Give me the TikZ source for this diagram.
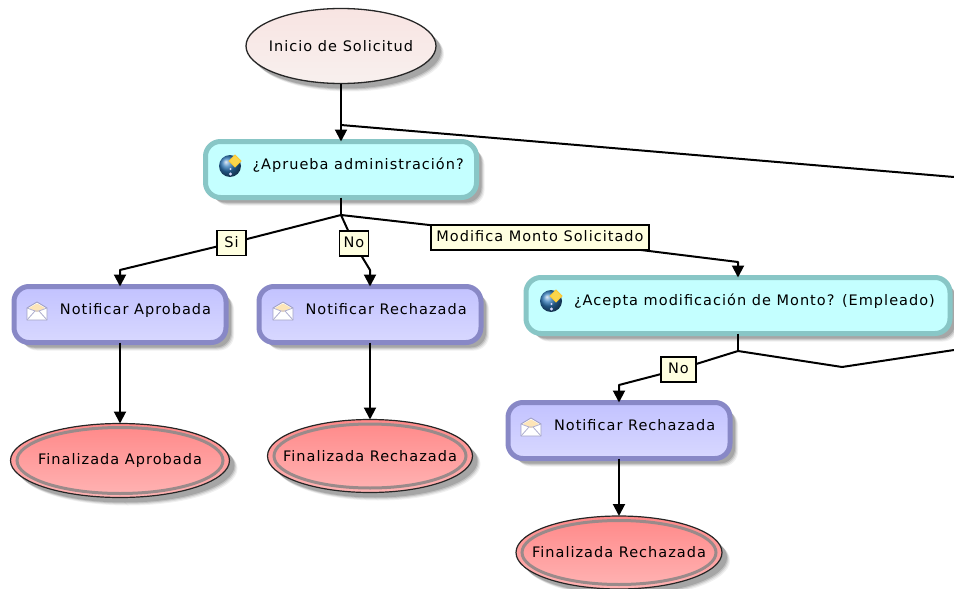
\documentclass[tikz,border=0pt]{standalone}
\usepackage{fontspec}
\setmainfont[LetterSpace=7]{DejaVu Sans}
\usetikzlibrary{shapes.geometric,arrows.meta}
\definecolor{tealedge}{HTML}{88C6C6}
\definecolor{tealfill}{HTML}{C4FFFF}
\definecolor{blueedge}{HTML}{8888C6}
\definecolor{bluetop}{HTML}{C2C2FF}
\definecolor{bluebot}{HTML}{D8D8FF}
\definecolor{redtop}{HTML}{FF8888}
\definecolor{redbot}{HTML}{FFB4B4}
\definecolor{ringgray}{HTML}{9A8A8A}
\definecolor{starttop}{HTML}{F8E4E2}
\definecolor{startbot}{HTML}{F8F0EE}
\definecolor{labelfill}{HTML}{FFFFE0}
\definecolor{globeblue}{HTML}{2F78B8}
\tikzset{
  softshadow/.style={
    preaction={draw=none,fill=black,fill opacity=.06,transform canvas={xshift=8pt,yshift=-8pt}},
    preaction={draw=none,fill=black,fill opacity=.08,transform canvas={xshift=7pt,yshift=-7pt}},
    preaction={draw=none,fill=black,fill opacity=.12,transform canvas={xshift=6pt,yshift=-6pt}},
    preaction={draw=none,fill=black,fill opacity=.14,transform canvas={xshift=5pt,yshift=-5pt}}},
  txt/.style={font=\fontsize{14.5}{16}\selectfont,text=black},
  taskbox/.style={softshadow,draw,rounded corners=15pt,line width=5pt,inner sep=0pt,outer sep=0pt,
    txt,text height=8pt,text depth=8pt,minimum height=56pt},
  decision/.style={taskbox,draw=tealedge,fill=tealfill},
  notify/.style={taskbox,draw=blueedge,top color=bluetop,bottom color=bluebot},
  startnode/.style={softshadow,ellipse,draw=black!85,line width=1.3pt,top color=starttop,bottom color=startbot,
    inner sep=0pt,outer sep=0pt,txt},
  endnode/.style={softshadow,ellipse,draw=black!85,line width=1.2pt,top color=redtop,bottom color=redbot,
    inner sep=0pt,outer sep=0pt,txt},
  ring/.style={draw=ringgray,line width=3pt},
  tag/.style={draw=black,line width=1.1pt,fill=labelfill,txt,inner sep=0pt,outer sep=0pt,
    text height=11pt,text depth=2.5pt},
  link/.style={draw=black,line width=2pt,line join=round},
  head/.style={link,-{Triangle[width=12pt,length=12pt]}},
}
\newcommand{\globeicon}[2]{%
  \shade[ball color=globeblue] (#1,#2) circle[radius=11pt];
  \fill[white!85!blue] (#1+.5,#2+8) circle[radius=1.6pt];
  \fill[white!85!blue] (#1+.5,#2+3) circle[radius=1.2pt];
  \draw[draw=yellow!50!orange!80,fill=yellow!60!orange!70,line width=.8pt]
    (#1+5,#2-11) -- (#1+11,#2-5) -- (#1+5,#2+1) -- (#1-1,#2-5) -- cycle;
}
\newcommand{\mailicon}[2]{%
  \draw[draw=blue!25!gray!60,fill=white,line width=.9pt,line join=round]
    (#1-10,#2+9) -- (#1-10,#2-3) -- (#1,#2-9) -- (#1+10,#2-3) -- (#1+10,#2+9) -- cycle;
  \fill[yellow!25!orange!25] (#1-8,#2-3) -- (#1,#2-7.5) -- (#1+8,#2-3) -- (#1,#2+1) -- cycle;
  \draw[draw=blue!25!gray!50,line width=.8pt] (#1-10,#2+9) -- (#1-2,#2) -- (#1+2,#2) -- (#1+10,#2+9);
  \draw[draw=blue!25!gray!50,line width=.8pt] (#1-10,#2-3) -- (#1-2,#2) (#1+2,#2) -- (#1+10,#2-3);
}
\begin{document}
\begin{tikzpicture}[x=1pt,y=-1pt]
\path[use as bounding box,clip] (0,0) rectangle (954,589);
\fill[white] (0,0) rectangle (954,589);
% start
\node[startnode,minimum width=190pt,minimum height=75pt] (start) at (341,46) {\makebox[0pt]{Inicio de Solicitud}};
% decisions
\node[decision,minimum width=271pt] (aprueba) at (341,169.5) {\makebox[262pt][l]{\hspace{42.5pt}¿Aprueba administración?}};
\node[decision,minimum width=424pt] (acepta) at (738,305.5) {\makebox[416pt][l]{\hspace{44pt}¿Acepta modificación de Monto? (Empleado)}};
% notifications
\node[notify,minimum width=212pt] (nfa) at (120,314.5) {\makebox[204pt][l]{\hspace{42pt}Notificar Aprobada}};
\node[notify,minimum width=222pt] (nfr) at (370,314.5) {\makebox[214pt][l]{\hspace{42.5pt}Notificar Rechazada}};
\node[notify,minimum width=222pt] (nfm) at (619,430.5) {\makebox[214pt][l]{\hspace{42pt}Notificar Rechazada}};
% ends
\node[endnode,minimum width=219pt,minimum height=74pt] (fa) at (120,460.5) {\makebox[0pt]{Finalizada Aprobada}};
\draw[ring] (fa.center) ellipse[x radius=103,y radius=33];
\node[endnode,minimum width=205pt,minimum height=73pt] (fr) at (370,456) {\makebox[0pt]{Finalizada Rechazada}};
\draw[ring] (fr.center) ellipse[x radius=96,y radius=32];
\node[endnode,minimum width=206pt,minimum height=73pt] (fm) at (619,552.5) {\makebox[0pt]{Finalizada Rechazada}};
\draw[ring] (fm.center) ellipse[x radius=97,y radius=32];
% icons
\globeicon{230}{166}
\globeicon{551}{301}
\mailicon{37}{311}
\mailicon{283}{311}
\mailicon{531}{427}
% tags
\node[tag,minimum width=29pt,minimum height=25pt] (tagsi) at (231.5,243) {Si};
\node[tag,minimum width=29pt,minimum height=25pt] (tagno) at (354,243.5) {No};
\node[tag,minimum width=218pt,minimum height=25pt] (tagmod) at (540,237.5) {Modifica Monto Solicitado};
\node[tag,minimum width=35pt,minimum height=25pt] (tagnotwo) at (678.5,369.5) {No};
% junctions and free ends
\coordinate (j1) at (341,125);
\coordinate (exit1) at (954,177);
\coordinate (j2) at (341,215);
\coordinate (bsi) at (120,270);
\coordinate (bno) at (370,270);
\coordinate (bmod) at (738,262);
\coordinate (j3) at (738,351);
\coordinate (bno2) at (619,385);
\coordinate (kink) at (842,367);
\coordinate (exit2) at (954,350);
% links
\draw[head] (start.south) -- (aprueba.north);
\draw[link] (j1) -- (exit1);
\draw[link] (aprueba.south) -- (j2);
\draw[link] (j2) -- (tagsi);
\draw[head] (tagsi) -- (bsi) -- (nfa.north);
\draw[link] (j2) -- (tagno);
\draw[head] (tagno) -- (bno) -- (nfr.north);
\draw[link] (j2) -- (tagmod);
\draw[head] (tagmod) -- (bmod) -- (acepta.north);
\draw[link] (acepta.south) -- (j3);
\draw[link] (j3) -- (tagnotwo);
\draw[head] (tagnotwo) -- (bno2) -- (nfm.north);
\draw[link] (j3) -- (kink) -- (exit2);
\draw[head] (nfa.south) -- (fa.north);
\draw[head] (nfr.south) -- (fr.north);
\draw[head] (nfm.south) -- (fm.north);
\end{tikzpicture}
\end{document}
